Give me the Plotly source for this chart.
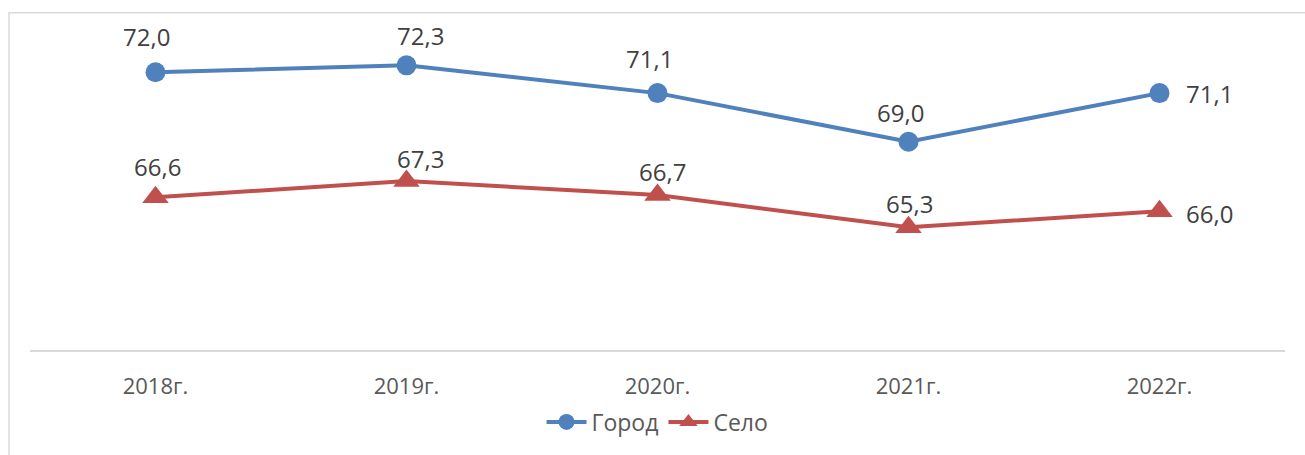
import plotly.graph_objects as go

categories = ["2018г.", "2019г.", "2020г.", "2021г.", "2022г."]
gorod = [72.0, 72.3, 71.1, 69.0, 71.1]
selo = [66.6, 67.3, 66.7, 65.3, 66.0]
series_names = ["Город", "Село"]

BLUE = "#4F81BD"
RED = "#C0504D"
TXT = "#404040"
FONT = "Open Sans"

# label offsets in pixels (dx, dy, xanchor)
gorod_off = [(-9, 36, "center"), (14, 30, "center"), (-8, 35, "center"), (-8, 29, "center"), (24, 0, "left")]
selo_off = [(2, 31, "center"), (14, 23, "center"), (5, 23, "center"), (1, 24, "center"), (24, -2, "left")]

fig = go.Figure()
fig.add_trace(go.Scatter(
    x=categories, y=gorod, name=series_names[0], mode="lines+markers",
    line=dict(color=BLUE, width=4), marker=dict(symbol="circle", size=20, color=BLUE),
))
fig.add_trace(go.Scatter(
    x=categories, y=selo, name=series_names[1], mode="lines+markers",
    line=dict(color=RED, width=4), marker=dict(symbol="triangle-up", size=23, color=RED),
))

def fmt(v):
    return f"{v:.1f}".replace(".", ",")

annotations = []
for vals, offs in ((gorod, gorod_off), (selo, selo_off)):
    for c, v, (dx, dy, xa) in zip(categories, vals, offs):
        annotations.append(dict(
            x=c, y=v, xref="x", yref="y", text=fmt(v), showarrow=False,
            xshift=dx, yshift=dy, xanchor=xa, yanchor="middle",
            font=dict(family=FONT, size=24, color=TXT),
        ))

fig.update_layout(
    width=1305, height=455,
    margin=dict(l=30, r=20, t=26, b=98),
    paper_bgcolor="white", plot_bgcolor="white",
    font=dict(family=FONT, color=TXT),
    showlegend=True,
    legend=dict(orientation="h", x=0.5, xanchor="center", y=-0.222, yanchor="middle",
                font=dict(family=FONT, size=23, color="#595959"), itemwidth=40),
    annotations=annotations,
    shapes=[dict(type="rect", xref="paper", yref="paper",
                 x0=-0.0167, x1=1.2, y0=-0.5, y1=1.041,
                 line=dict(color="#d9d9d9", width=1.5), layer="below")],
)
fig.update_xaxes(type="category", range=[-0.5, 4.5], showline=True, linecolor="#d9d9d9", linewidth=1.5,
                 showgrid=False, zeroline=False, ticks="",
                 tickfont=dict(family=FONT, size=22, color="#595959"), ticklabelstandoff=16)
fig.update_yaxes(range=[60, 74], showgrid=False, zeroline=False, showticklabels=False, showline=False)

fig.write_html("out.html", config={"displayModeBar": False},
               post_script="document.body.style.margin='0';document.body.style.overflow='hidden';")
